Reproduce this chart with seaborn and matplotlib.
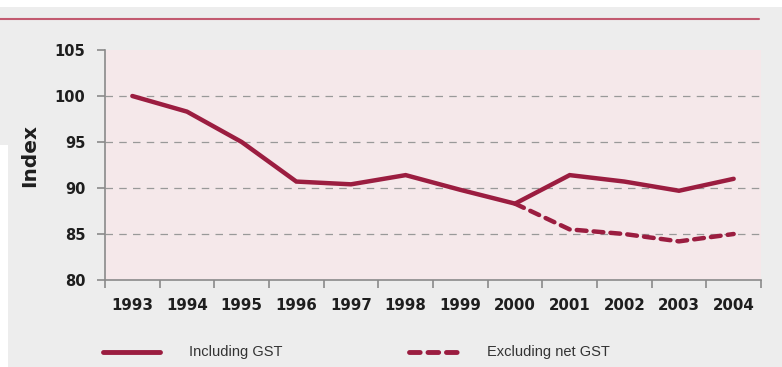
import numpy as np
import pandas as pd
import matplotlib
matplotlib.use("Agg")
import matplotlib.pyplot as plt
import seaborn as sns
from matplotlib.lines import Line2D
from matplotlib.patches import Rectangle

years = ["1993", "1994", "1995", "1996", "1997", "1998", "1999", "2000", "2001", "2002", "2003", "2004"]
incl_gst = [100.0, 98.3, 95.0, 90.7, 90.4, 91.4, 89.8, 88.3, 91.4, 90.7, 89.7, 91.0]
excl_years = ["2000", "2001", "2002", "2003", "2004"]
excl_gst = [88.3, 85.5, 85.0, 84.2, 85.0]
yticks = [80, 85, 90, 95, 100, 105]

sns.set_theme(style="white")
plt.rcParams['font.family'] = ['DejaVu Sans']

RED = "#9b1d40"
BG = "#ededed"
PINK = "#f5e8ea"
GRAY = "#8a8a8a"
TXT = "#1e1e1e"

fig = plt.figure(figsize=(7.82, 3.67), dpi=100)
fig.patch.set_facecolor("white")
fig.patches.append(Rectangle((0, 0), 1, (367-7)/367, transform=fig.transFigure,
                             facecolor=BG, edgecolor="none", zorder=-10))
fig.patches.append(Rectangle((0, 0), 8/782, (367-145)/367, transform=fig.transFigure,
                             facecolor="white", edgecolor="none", zorder=-9))
fig.add_artist(Line2D([0, 759/782], [(367-19)/367]*2, transform=fig.transFigure,
                      color="#c25a70", lw=1.5))

ax = fig.add_axes([105/782, (367-280)/367, (761-105)/782, (280-50)/367])
ax.set_facecolor(PINK)

df1 = pd.DataFrame({"x": np.arange(len(years)), "y": incl_gst})
idx = [years.index(y) for y in excl_years]
df2 = pd.DataFrame({"x": idx, "y": excl_gst})

sns.lineplot(data=df2, x="x", y="y", ax=ax, color=RED, lw=3.2, linestyle=(0, (2.2, 1.6)),
             solid_capstyle="round", dash_capstyle="round")
sns.lineplot(data=df1, x="x", y="y", ax=ax, color=RED, lw=3.2, solid_joinstyle="miter")

ax.set_xlim(-0.5, len(years) - 0.5)
ax.set_ylim(80, 105)
ax.set_yticks(yticks)
ax.set_yticklabels([str(v) for v in yticks], fontsize=10.5, fontweight="bold", color=TXT)
ax.set_xticks(np.arange(len(years) + 1) - 0.5)
ax.set_xticklabels([])
ax.set_xticks(np.arange(len(years)), minor=True)
ax.set_xticklabels(years, minor=True, fontsize=10.8, fontweight="bold", color=TXT)
ax.tick_params(axis="x", which="major", length=6, width=1.2, color=GRAY, direction="out", bottom=True)
ax.tick_params(axis="x", which="minor", length=0, pad=13, bottom=True)
ax.tick_params(axis="y", length=6, width=1.2, color=GRAY, direction="out", left=True, pad=8)

for v in [85, 90, 95, 100]:
    ax.axhline(v, color="#999999", lw=0.9, ls=(0, (6, 5)), zorder=0.5)

for s in ["top", "right"]:
    ax.spines[s].set_visible(False)
for s in ["left", "bottom"]:
    ax.spines[s].set_color(GRAY)
    ax.spines[s].set_linewidth(1.2)

ax.set_xlabel("")
ax.set_ylabel("")
fig.text(30/782, (367-155.5)/367, "Index", rotation=90, fontsize=14.5, fontweight="bold",
         color=TXT, ha="center", va="center")

# legend
ly = (367-352)/367
fig.add_artist(Line2D([103/782, 160/782], [ly, ly], transform=fig.transFigure, color=RED, lw=3.5,
                      solid_capstyle="round"))
fig.text(189/782, ly, "Including GST", fontsize=10.5, va="center", ha="left", color="#333333",
         family=['Liberation Sans', 'DejaVu Sans'])
fig.add_artist(Line2D([409/782, 457/782], [ly, ly], transform=fig.transFigure, color=RED, lw=3.5,
                      linestyle=(0, (2.2, 1.6)), dash_capstyle="round"))
fig.text(487/782, ly, "Excluding net GST", fontsize=10.5, va="center", ha="left", color="#333333",
         family=['Liberation Sans', 'DejaVu Sans'])

fig.savefig("out.png", dpi=100, facecolor=fig.get_facecolor())
